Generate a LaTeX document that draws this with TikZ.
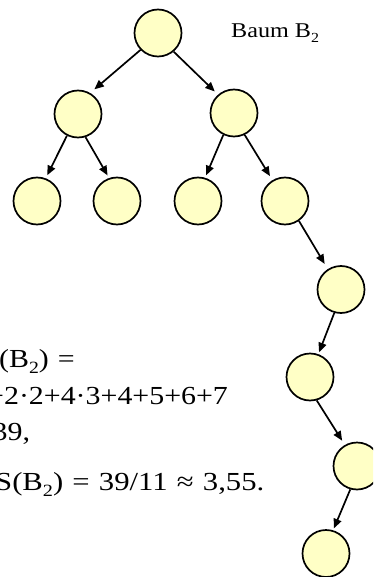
\documentclass[tikz,border=0pt]{standalone}
\usepackage{fontspec}
\setmainfont{Liberation Serif}
\usetikzlibrary{arrows.meta}
\definecolor{nodefill}{RGB}{255,255,198}
\newcommand\lowtwo{\raisebox{-0.24em}{\scalebox{0.66}{2}}}
\newcommand\wsp{\hspace{0.3em}}
\begin{document}
\begin{tikzpicture}[x=1pt,y=-1pt,
  vert/.style={circle, draw=black, line width=1.7pt, fill=nodefill, minimum size=47pt, inner sep=0pt},
  edge/.style={line width=1.7pt, -{Triangle[length=9.5pt,width=8pt]}},
  txt/.style={anchor=base west, inner sep=0pt, font=\fontsize{26}{30}\selectfont},
  title/.style={anchor=base west, inner sep=0pt, font=\fontsize{21}{25}\selectfont}]
\useasboundingbox (0,0) rectangle (373,577);
\clip (0,0) rectangle (373,577);
% nodes
\node[vert] (R) at (158,33) {};
\node[vert] (A) at (78,114) {};
\node[vert] (B) at (234,113) {};
\node[vert] (a1) at (37,201) {};
\node[vert] (a2) at (117,201) {};
\node[vert] (b1) at (198,201) {};
\node[vert] (b2) at (285,201) {};
\node[vert] (C1) at (341,289.5) {};
\node[vert] (C2) at (310,377) {};
\node[vert] (C3) at (357,466) {};
\node[vert] (C4) at (326,553.5) {};
% edges
\draw[edge, shorten >=5.5pt] (R.224) -- (A.60);
\draw[edge, shorten >=4.5pt] (R.310) -- (B.131);
\draw[edge, shorten >=3.4pt] (A.243) -- (a1.69);
\draw[edge, shorten >=3pt] (A.288) -- (a2.109);
\draw[edge, shorten >=2.7pt] (B.244) -- (b1.73);
\draw[edge, shorten >=4.7pt] (B.296) -- (b2.121);
\draw[edge, shorten >=6pt] (b2.305) -- (C1.123);
\draw[edge, shorten >=2pt] (C1.254) -- (C2.70);
\draw[edge, shorten >=5pt] (C2.286) -- (C3.120);
\draw[edge, shorten >=2pt] (C3.254) -- (C4.73);
% texts
\node[title] (t0) at (231,37.5) {\scalebox{1.15}[1]{Baum B\lowtwo}};
\node[txt] (t1) at (-1,367) {\scalebox{1.15}[1]{(B\lowtwo)\wsp=}};
\node[txt] (t2) at (-13,404) {\scalebox{1.15}[1]{+2·2+4·3+4+5+6+7}};
\node[txt] (t3) at (-7.5,440) {\scalebox{1.15}[1]{39,}};
\node[txt] (t4) at (-5,490) {\scalebox{1.18}[1]{S(B\lowtwo)\wsp=\wsp39/11\wsp≈\wsp3,55.}};
\end{tikzpicture}
\end{document}
